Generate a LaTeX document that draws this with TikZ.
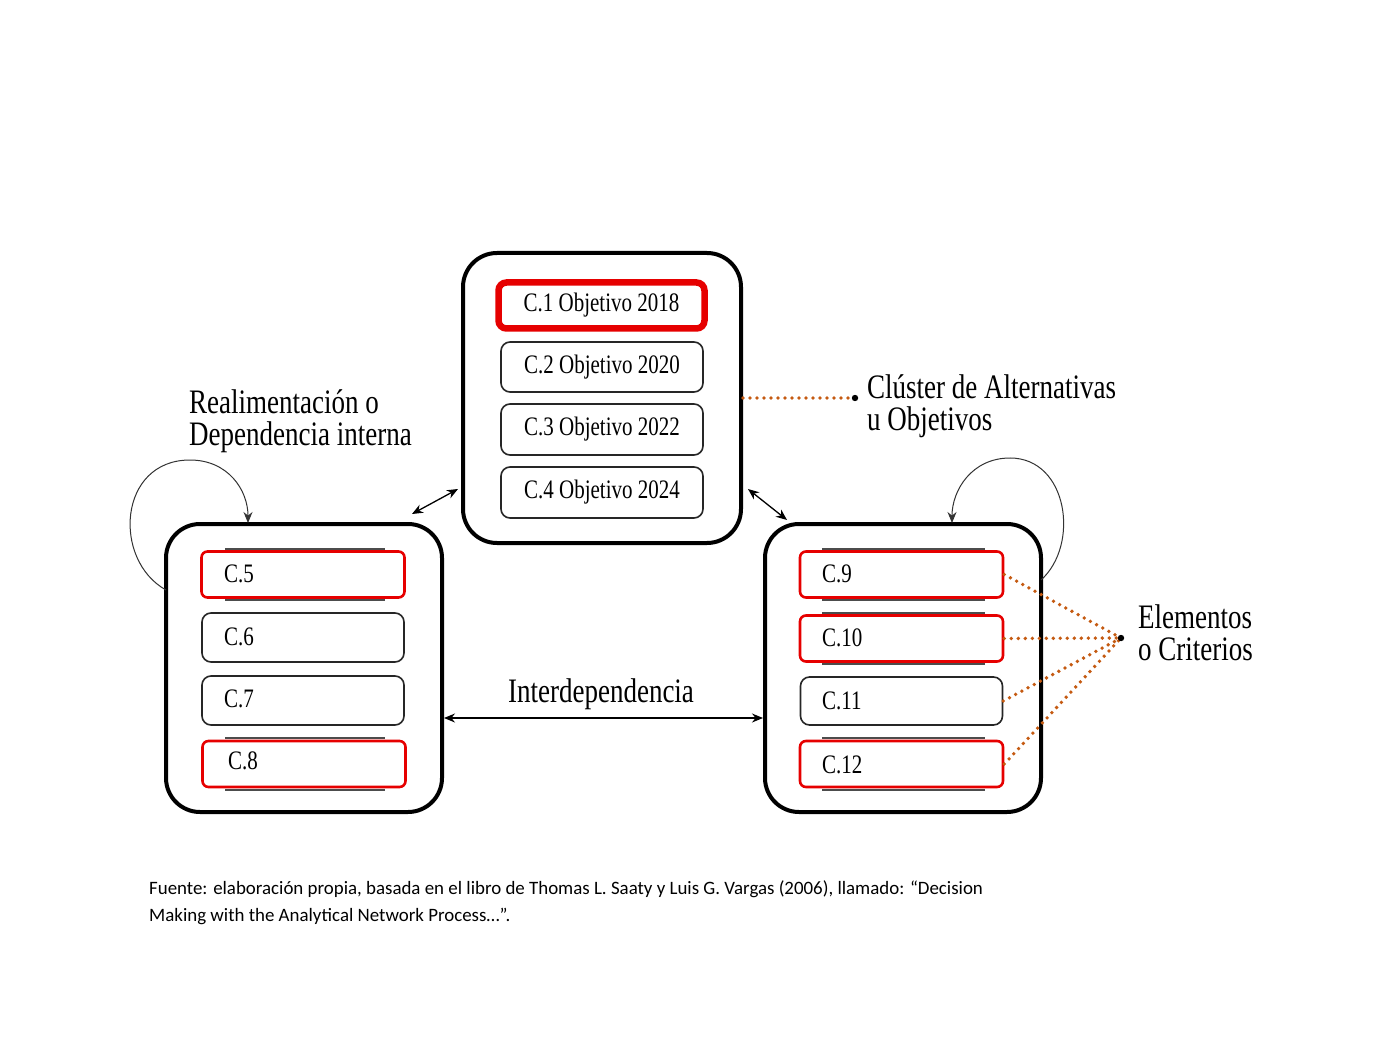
\documentclass[tikz,border=0pt]{standalone}
\usepackage{fontspec}
\setmainfont{Liberation Serif}
\newfontfamily\capfont{Carlito}
\usetikzlibrary{arrows.meta}
\newcommand{\tall}[1]{\scalebox{1}[1.27]{#1}}
\definecolor{dotorange}{RGB}{197,90,17}
\definecolor{redbox}{RGB}{230,0,0}
\tikzset{
  cluster/.style={draw=black, line width=4pt, rounded corners=34pt, fill=white, minimum width=#1},
  elem/.style={draw=black!85, line width=1.6pt, rounded corners=9pt, fill=white, minimum width=202pt, inner sep=0pt, font=\fontsize{21}{24}\selectfont},
  relem/.style={draw=redbox, line width=2.6pt, rounded corners=6pt, fill=white, minimum width=203pt, inner sep=0pt, font=\fontsize{21}{24}\selectfont},
  lbl/.style={inner sep=0pt, align=left, font=\fontsize{27}{32}\selectfont},
  small/.style={inner sep=0pt, anchor=west, font=\fontsize{21}{24}\selectfont},
  dots/.style={draw=dotorange, line width=3.8pt, line cap=round, dash pattern=on 0pt off 7pt},
  dbl/.style={{Stealth[length=11pt,width=9pt]}-{Stealth[length=11pt,width=9pt]}, line width=1.3pt},
  loop/.style={-{Stealth[length=11pt,width=9pt]}, line width=1pt, draw=black!80},
  shade/.style={draw=black!70, line width=1.2pt}
}
\begin{document}
\begin{tikzpicture}[x=1pt,y=-1pt]
\useasboundingbox[fill=white] (0,0) rectangle (1387,1040);

% clusters
\node[cluster=278pt, minimum height=290pt] (tb) at (602,398) {};
\node[cluster=276pt, minimum height=288pt] (lb) at (304,668) {};
\node[cluster=276pt, minimum height=288pt] (rb) at (903,668) {};

% top cluster elements
\node[relem, line width=6.5pt, rounded corners=8pt, minimum width=206pt, minimum height=46pt] (c1) at (601.5,305.5) {\tall{C.1 Objetivo 2018}};
\node[elem, minimum height=50pt] (c2) at (602,367) {\tall{C.2 Objetivo 2020}};
\node[elem, minimum height=51pt] (c3) at (602,429.5) {\tall{C.3 Objetivo 2022}};
\node[elem, minimum height=51pt] (c4) at (602,492.5) {\tall{C.4 Objetivo 2024}};

% left cluster elements
\draw[shade] (225,549) -- (385,549);
\draw[shade] (225,600) -- (385,600);
\draw[shade] (225,738) -- (385,738);
\draw[shade] (225,790) -- (385,790);
\node[relem, minimum height=46pt] (c5) at (303,574.5) {};
\node[elem, minimum height=49pt] (c6) at (303,637.5) {};
\node[elem, minimum height=49pt] (c7) at (303,700.5) {};
\node[relem, minimum height=46pt] (c8) at (304,764) {};
\node[small] (t5) at (224,574) {\tall{C.5}};
\node[small] (t6) at (224,637) {\tall{C.6}};
\node[small] (t7) at (224,699) {\tall{C.7}};
\node[small] (t8) at (228,761) {\tall{C.8}};

% right cluster elements
\draw[shade] (822,549) -- (985,549);
\draw[shade] (822,600) -- (985,600);
\draw[shade] (822,613) -- (985,613);
\draw[shade] (822,664) -- (985,664);
\draw[shade] (822,738) -- (985,738);
\draw[shade] (822,790) -- (985,790);
\node[relem, minimum height=46pt] (c9) at (901.5,574.5) {};
\node[relem, minimum height=46pt] (c10) at (901.5,638.5) {};
\node[elem, minimum height=48pt] (c11) at (901.5,701) {};
\node[relem, minimum height=46pt] (c12) at (901.5,764) {};
\node[small] (t9) at (822,574) {\tall{C.9}};
\node[small] (t10) at (822,638) {\tall{C.10}};
\node[small] (t11) at (822,701) {\tall{C.11}};
\node[small] (t12) at (822,765) {\tall{C.12}};

% labels
\node[lbl, anchor=west] (fb) at (189,421) {\tall{Realimentación o}\\\tall{Dependencia interna}};
\node[lbl, anchor=west] (cl) at (867,406) {\tall{Clúster de Alternativas}\\\tall{u Objetivos}};
\node[lbl, anchor=west] (el) at (1138,633) {\tall{Elementos}\\\tall{o Criterios}};
\node[lbl] (inter) at (601,694) {\tall{Interdependencia}};

% interdependence arrows
\coordinate (a1) at (412,514);
\coordinate (a2) at (458,489);
\coordinate (a3) at (748,489);
\coordinate (a4) at (787,520);
\draw[dbl] (a1) -- (a2);
\draw[dbl] (a3) -- (a4);
\draw[dbl] (lb.east |- 0,718) -- (rb.west |- 0,718);

% feedback loops
\coordinate (l1) at (166,590);
\coordinate (l2) at (248,523);
\draw[loop] (l1) .. controls (112,560) and (118,460) .. (190,460)
  .. controls (228,460) and (248,490) .. (l2);
\coordinate (r1) at (1041,580);
\coordinate (r2) at (952,523);
\draw[loop] (r1) .. controls (1080,545) and (1068,458) .. (1010,458)
  .. controls (972,458) and (952,490) .. (r2);

% orange dotted pointers
\coordinate (cd) at (855,398);
\draw[dots] (tb.east |- cd) -- (cd);
\fill (cd) circle (3.2pt);
\coordinate (ed) at (1121,638);
\draw[dots] (c9.east) -- (ed);
\draw[dots] (c10.east) -- (ed);
\draw[dots] (c11.east) -- (ed);
\draw[dots] (c12.east) -- (ed);
\fill (ed) circle (3.2pt);

% caption
\node[anchor=north west, inner sep=0pt, align=left, font=\capfont\fontsize{18.9}{27}\selectfont] (src) at (149,880)
 {Fuente: elaboración propia, basada en el libro de Thomas L. Saaty y Luis G. Vargas (2006), llamado: “Decision\\
  Making with the Analytical Network Process…”.};
\end{tikzpicture}
\end{document}
